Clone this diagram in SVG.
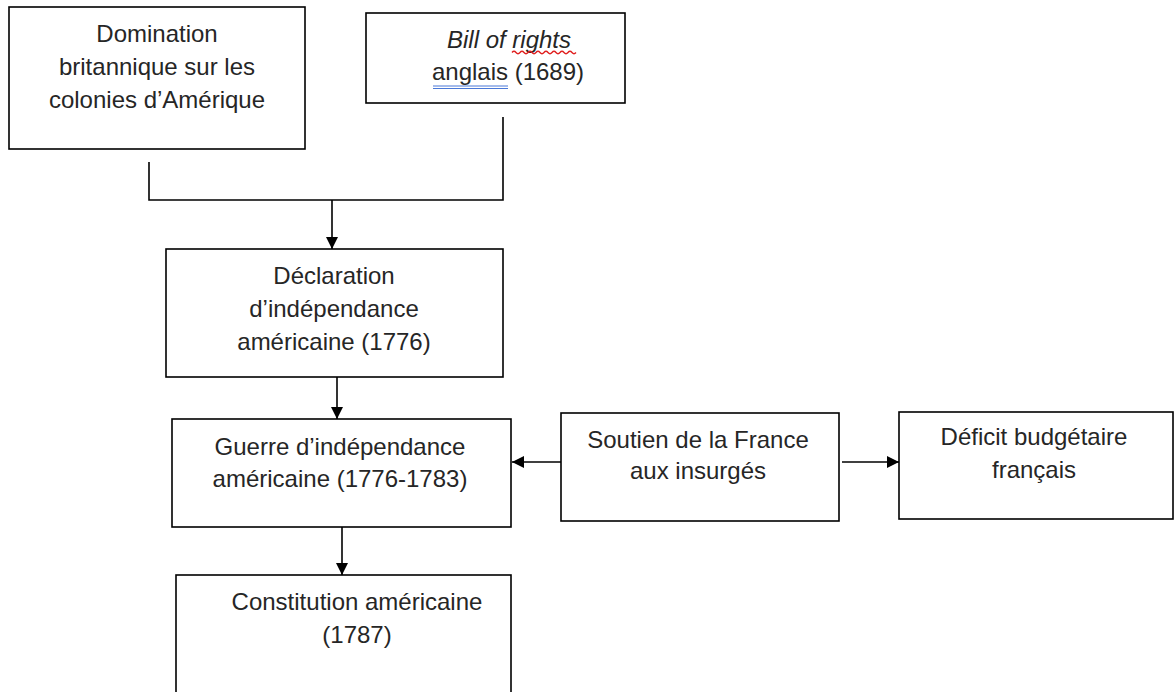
<svg xmlns="http://www.w3.org/2000/svg" width="1175" height="692" viewBox="0 0 1175 692">
<style>
.box{fill:#fff;stroke:#000;stroke-width:1.6}
.t{font-family:"Liberation Sans",Arial,sans-serif;font-size:24px;fill:#262626;text-anchor:middle}
.it{font-style:italic}
.c{fill:none;stroke:#000;stroke-width:1.6}
</style>
<defs>
<marker id="arr" viewBox="0 0 12 12" refX="12" refY="6" markerWidth="12" markerHeight="12" markerUnits="userSpaceOnUse" orient="auto">
<path d="M0,0 L12,6 L0,12 Z" fill="#000"/>
</marker>
</defs>
<rect width="1175" height="692" fill="#fff"/>
<g id="connectors">
<polyline class="c" points="149,162 149,200 503,200 503,117"/>
<line class="c" x1="332" y1="200" x2="332" y2="249" marker-end="url(#arr)"/>
<line class="c" x1="337" y1="377" x2="337" y2="419" marker-end="url(#arr)"/>
<line class="c" x1="342" y1="527" x2="342" y2="575" marker-end="url(#arr)"/>
<line class="c" x1="561" y1="462" x2="512" y2="462" marker-end="url(#arr)"/>
<line class="c" x1="842" y1="462" x2="899" y2="462" marker-end="url(#arr)"/>
</g>
<g id="domination">
<rect class="box" x="9" y="7" width="296" height="142"/>
<text class="t" x="157" y="42">Domination</text>
<text class="t" x="157" y="75">britannique sur les</text>
<text class="t" x="157" y="108">colonies d’Amérique</text>
</g>
<g id="bill">
<rect class="box" x="366" y="13" width="259" height="90"/>
<text class="t it" x="509" y="48">Bill of rights</text>
<text class="t" x="508" y="80">anglais (1689)</text>
<path d="M512,52.5 q2,-2.5 4,0 t4,0 t4,0 t4,0 t4,0 t4,0 t4,0 t4,0 t4,0 t4,0 t4,0 t4,0 t4,0 t4,0 t4,0 t4,0" fill="none" stroke="#e02020" stroke-width="1.3"/>
<line x1="433" y1="86" x2="508" y2="86" stroke="#4a78d8" stroke-width="1.2"/>
<line x1="433" y1="88.5" x2="508" y2="88.5" stroke="#4a78d8" stroke-width="1.2"/>
</g>
<g id="declaration">
<rect class="box" x="166" y="249" width="337" height="128"/>
<text class="t" x="334" y="284">Déclaration</text>
<text class="t" x="334" y="317">d’indépendance</text>
<text class="t" x="334" y="350">américaine (1776)</text>
</g>
<g id="guerre">
<rect class="box" x="172" y="419" width="339" height="108"/>
<text class="t" x="340" y="455">Guerre d’indépendance</text>
<text class="t" x="340" y="487">américaine (1776-1783)</text>
</g>
<g id="constitution">
<rect class="box" x="176" y="575" width="335" height="130"/>
<text class="t" x="357" y="610">Constitution américaine</text>
<text class="t" x="357" y="643">(1787)</text>
</g>
<g id="soutien">
<rect class="box" x="561" y="413" width="278" height="108"/>
<text class="t" x="698" y="448">Soutien de la France</text>
<text class="t" x="698" y="479">aux insurgés</text>
</g>
<g id="deficit">
<rect class="box" x="899" y="412" width="274" height="107"/>
<text class="t" x="1034" y="445">Déficit budgétaire</text>
<text class="t" x="1034" y="478">français</text>
</g>
</svg>
